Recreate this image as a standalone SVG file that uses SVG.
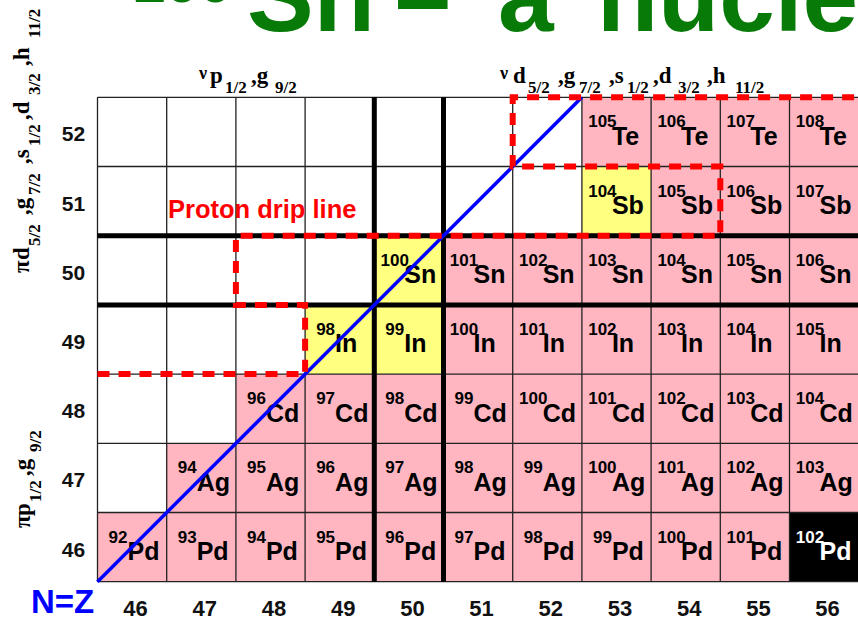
<svg xmlns="http://www.w3.org/2000/svg" width="858" height="620" viewBox="0 0 858 620">
<style>
.pk{fill:#ffb6c1}.yl{fill:#ffff80}.bk{fill:#000}
.m{font-family:'Liberation Sans',Arial,sans-serif;font-weight:bold;font-size:17px;text-anchor:middle;fill:#000}
.s{font-family:'Liberation Sans',Arial,sans-serif;font-weight:bold;font-size:25px;fill:#000}
.w{fill:#fff}
.ax{font-family:'Liberation Serif','Times New Roman',serif;font-weight:bold;font-size:23px;fill:#000}
.sub{font-size:17px}
.gr{font-size:18px}
.num{font-family:'Liberation Sans',Arial,sans-serif;font-weight:bold;font-size:21px;text-anchor:middle;fill:#111}
.nb{font-size:22px}
.thin{stroke:#222;stroke-width:1.3;fill:none}
.thick{stroke:#000;stroke-width:5;fill:none}
</style>
<rect width="858" height="620" fill="#fff"/>
<g id="title" fill="#087a08" font-family="'Liberation Sans',Arial,sans-serif" font-weight="bold">
<text x="132" y="2" font-size="60">100</text>
<text y="31" font-size="100"><tspan x="247">Sn</tspan><tspan x="395">–</tspan><tspan x="498">a</tspan><tspan x="597">nucle</tspan></text>
</g>
<g id="cells">
<g id="c105Te"><rect class="pk" x="581.9" y="97.3" width="69.2" height="69.2"/><text class="m" x="602.4" y="127.3">105</text><text class="s" x="611.9" y="144.8">Te</text></g>
<g id="c106Te"><rect class="pk" x="651.1" y="97.3" width="69.2" height="69.2"/><text class="m" x="671.6" y="127.3">106</text><text class="s" x="681.1" y="144.8">Te</text></g>
<g id="c107Te"><rect class="pk" x="720.3" y="97.3" width="69.2" height="69.2"/><text class="m" x="740.8" y="127.3">107</text><text class="s" x="750.3" y="144.8">Te</text></g>
<g id="c108Te"><rect class="pk" x="789.5" y="97.3" width="69.2" height="69.2"/><text class="m" x="810" y="127.3">108</text><text class="s" x="819.5" y="144.8">Te</text></g>

<g id="c104Sb"><rect class="yl" x="581.9" y="166.5" width="69.2" height="69.2"/><text class="m" x="602.4" y="196.5">104</text><text class="s" x="611.9" y="214">Sb</text></g>
<g id="c105Sb"><rect class="pk" x="651.1" y="166.5" width="69.2" height="69.2"/><text class="m" x="671.6" y="196.5">105</text><text class="s" x="681.1" y="214">Sb</text></g>
<g id="c106Sb"><rect class="pk" x="720.3" y="166.5" width="69.2" height="69.2"/><text class="m" x="740.8" y="196.5">106</text><text class="s" x="750.3" y="214">Sb</text></g>
<g id="c107Sb"><rect class="pk" x="789.5" y="166.5" width="69.2" height="69.2"/><text class="m" x="810" y="196.5">107</text><text class="s" x="819.5" y="214">Sb</text></g>

<g id="c100Sn"><rect class="yl" x="374.3" y="235.7" width="69.2" height="69.2"/><text class="m" x="394.8" y="265.7">100</text><text class="s" x="404.3" y="283.2">Sn</text></g>
<g id="c101Sn"><rect class="pk" x="443.5" y="235.7" width="69.2" height="69.2"/><text class="m" x="464" y="265.7">101</text><text class="s" x="473.5" y="283.2">Sn</text></g>
<g id="c102Sn"><rect class="pk" x="512.7" y="235.7" width="69.2" height="69.2"/><text class="m" x="533.2" y="265.7">102</text><text class="s" x="542.7" y="283.2">Sn</text></g>
<g id="c103Sn"><rect class="pk" x="581.9" y="235.7" width="69.2" height="69.2"/><text class="m" x="602.4" y="265.7">103</text><text class="s" x="611.9" y="283.2">Sn</text></g>
<g id="c104Sn"><rect class="pk" x="651.1" y="235.7" width="69.2" height="69.2"/><text class="m" x="671.6" y="265.7">104</text><text class="s" x="681.1" y="283.2">Sn</text></g>
<g id="c105Sn"><rect class="pk" x="720.3" y="235.7" width="69.2" height="69.2"/><text class="m" x="740.8" y="265.7">105</text><text class="s" x="750.3" y="283.2">Sn</text></g>
<g id="c106Sn"><rect class="pk" x="789.5" y="235.7" width="69.2" height="69.2"/><text class="m" x="810" y="265.7">106</text><text class="s" x="819.5" y="283.2">Sn</text></g>

<g id="c98In"><rect class="yl" x="305.1" y="304.9" width="69.2" height="69.2"/><text class="m" x="325.6" y="334.9">98</text><text class="s" x="335.1" y="352.4">In</text></g>
<g id="c99In"><rect class="yl" x="374.3" y="304.9" width="69.2" height="69.2"/><text class="m" x="394.8" y="334.9">99</text><text class="s" x="404.3" y="352.4">In</text></g>
<g id="c100In"><rect class="pk" x="443.5" y="304.9" width="69.2" height="69.2"/><text class="m" x="464" y="334.9">100</text><text class="s" x="473.5" y="352.4">In</text></g>
<g id="c101In"><rect class="pk" x="512.7" y="304.9" width="69.2" height="69.2"/><text class="m" x="533.2" y="334.9">101</text><text class="s" x="542.7" y="352.4">In</text></g>
<g id="c102In"><rect class="pk" x="581.9" y="304.9" width="69.2" height="69.2"/><text class="m" x="602.4" y="334.9">102</text><text class="s" x="611.9" y="352.4">In</text></g>
<g id="c103In"><rect class="pk" x="651.1" y="304.9" width="69.2" height="69.2"/><text class="m" x="671.6" y="334.9">103</text><text class="s" x="681.1" y="352.4">In</text></g>
<g id="c104In"><rect class="pk" x="720.3" y="304.9" width="69.2" height="69.2"/><text class="m" x="740.8" y="334.9">104</text><text class="s" x="750.3" y="352.4">In</text></g>
<g id="c105In"><rect class="pk" x="789.5" y="304.9" width="69.2" height="69.2"/><text class="m" x="810" y="334.9">105</text><text class="s" x="819.5" y="352.4">In</text></g>

<g id="c96Cd"><rect class="pk" x="235.9" y="374.1" width="69.2" height="69.2"/><text class="m" x="256.4" y="404.1">96</text><text class="s" x="265.9" y="421.6">Cd</text></g>
<g id="c97Cd"><rect class="pk" x="305.1" y="374.1" width="69.2" height="69.2"/><text class="m" x="325.6" y="404.1">97</text><text class="s" x="335.1" y="421.6">Cd</text></g>
<g id="c98Cd"><rect class="pk" x="374.3" y="374.1" width="69.2" height="69.2"/><text class="m" x="394.8" y="404.1">98</text><text class="s" x="404.3" y="421.6">Cd</text></g>
<g id="c99Cd"><rect class="pk" x="443.5" y="374.1" width="69.2" height="69.2"/><text class="m" x="464" y="404.1">99</text><text class="s" x="473.5" y="421.6">Cd</text></g>
<g id="c100Cd"><rect class="pk" x="512.7" y="374.1" width="69.2" height="69.2"/><text class="m" x="533.2" y="404.1">100</text><text class="s" x="542.7" y="421.6">Cd</text></g>
<g id="c101Cd"><rect class="pk" x="581.9" y="374.1" width="69.2" height="69.2"/><text class="m" x="602.4" y="404.1">101</text><text class="s" x="611.9" y="421.6">Cd</text></g>
<g id="c102Cd"><rect class="pk" x="651.1" y="374.1" width="69.2" height="69.2"/><text class="m" x="671.6" y="404.1">102</text><text class="s" x="681.1" y="421.6">Cd</text></g>
<g id="c103Cd"><rect class="pk" x="720.3" y="374.1" width="69.2" height="69.2"/><text class="m" x="740.8" y="404.1">103</text><text class="s" x="750.3" y="421.6">Cd</text></g>
<g id="c104Cd"><rect class="pk" x="789.5" y="374.1" width="69.2" height="69.2"/><text class="m" x="810" y="404.1">104</text><text class="s" x="819.5" y="421.6">Cd</text></g>

<g id="c94Ag"><rect class="pk" x="166.7" y="443.3" width="69.2" height="69.2"/><text class="m" x="187.2" y="473.3">94</text><text class="s" x="196.7" y="490.8">Ag</text></g>
<g id="c95Ag"><rect class="pk" x="235.9" y="443.3" width="69.2" height="69.2"/><text class="m" x="256.4" y="473.3">95</text><text class="s" x="265.9" y="490.8">Ag</text></g>
<g id="c96Ag"><rect class="pk" x="305.1" y="443.3" width="69.2" height="69.2"/><text class="m" x="325.6" y="473.3">96</text><text class="s" x="335.1" y="490.8">Ag</text></g>
<g id="c97Ag"><rect class="pk" x="374.3" y="443.3" width="69.2" height="69.2"/><text class="m" x="394.8" y="473.3">97</text><text class="s" x="404.3" y="490.8">Ag</text></g>
<g id="c98Ag"><rect class="pk" x="443.5" y="443.3" width="69.2" height="69.2"/><text class="m" x="464" y="473.3">98</text><text class="s" x="473.5" y="490.8">Ag</text></g>
<g id="c99Ag"><rect class="pk" x="512.7" y="443.3" width="69.2" height="69.2"/><text class="m" x="533.2" y="473.3">99</text><text class="s" x="542.7" y="490.8">Ag</text></g>
<g id="c100Ag"><rect class="pk" x="581.9" y="443.3" width="69.2" height="69.2"/><text class="m" x="602.4" y="473.3">100</text><text class="s" x="611.9" y="490.8">Ag</text></g>
<g id="c101Ag"><rect class="pk" x="651.1" y="443.3" width="69.2" height="69.2"/><text class="m" x="671.6" y="473.3">101</text><text class="s" x="681.1" y="490.8">Ag</text></g>
<g id="c102Ag"><rect class="pk" x="720.3" y="443.3" width="69.2" height="69.2"/><text class="m" x="740.8" y="473.3">102</text><text class="s" x="750.3" y="490.8">Ag</text></g>
<g id="c103Ag"><rect class="pk" x="789.5" y="443.3" width="69.2" height="69.2"/><text class="m" x="810" y="473.3">103</text><text class="s" x="819.5" y="490.8">Ag</text></g>

<g id="c92Pd"><rect class="pk" x="97.5" y="512.5" width="69.2" height="69.2"/><text class="m" x="118" y="542.5">92</text><text class="s" x="127.5" y="560">Pd</text></g>
<g id="c93Pd"><rect class="pk" x="166.7" y="512.5" width="69.2" height="69.2"/><text class="m" x="187.2" y="542.5">93</text><text class="s" x="196.7" y="560">Pd</text></g>
<g id="c94Pd"><rect class="pk" x="235.9" y="512.5" width="69.2" height="69.2"/><text class="m" x="256.4" y="542.5">94</text><text class="s" x="265.9" y="560">Pd</text></g>
<g id="c95Pd"><rect class="pk" x="305.1" y="512.5" width="69.2" height="69.2"/><text class="m" x="325.6" y="542.5">95</text><text class="s" x="335.1" y="560">Pd</text></g>
<g id="c96Pd"><rect class="pk" x="374.3" y="512.5" width="69.2" height="69.2"/><text class="m" x="394.8" y="542.5">96</text><text class="s" x="404.3" y="560">Pd</text></g>
<g id="c97Pd"><rect class="pk" x="443.5" y="512.5" width="69.2" height="69.2"/><text class="m" x="464" y="542.5">97</text><text class="s" x="473.5" y="560">Pd</text></g>
<g id="c98Pd"><rect class="pk" x="512.7" y="512.5" width="69.2" height="69.2"/><text class="m" x="533.2" y="542.5">98</text><text class="s" x="542.7" y="560">Pd</text></g>
<g id="c99Pd"><rect class="pk" x="581.9" y="512.5" width="69.2" height="69.2"/><text class="m" x="602.4" y="542.5">99</text><text class="s" x="611.9" y="560">Pd</text></g>
<g id="c100Pd"><rect class="pk" x="651.1" y="512.5" width="69.2" height="69.2"/><text class="m" x="671.6" y="542.5">100</text><text class="s" x="681.1" y="560">Pd</text></g>
<g id="c101Pd"><rect class="pk" x="720.3" y="512.5" width="69.2" height="69.2"/><text class="m" x="740.8" y="542.5">101</text><text class="s" x="750.3" y="560">Pd</text></g>
<g id="c102Pd"><rect class="bk" x="789.5" y="512.5" width="69.2" height="69.2"/><text class="m w" x="810" y="542.5">102</text><text class="s w" x="819.5" y="560">Pd</text></g>
</g>
<g id="grid">
<path class="thin" d="M97.5 97.3V581.7M166.7 97.3V581.7M235.9 97.3V581.7M305.1 97.3V581.7M512.7 97.3V581.7M581.9 97.3V581.7M651.1 97.3V581.7M720.3 97.3V581.7M789.5 97.3V581.7M97.5 97.3H858M97.5 166.5H858M97.5 374.1H858M97.5 443.3H858M97.5 512.5H858M97.5 581.7H858"/>
<path class="thick" d="M374.3 97.3V581.7M443.5 97.3V581.7M97.5 235.7H858M97.5 304.9H858"/>
</g>
<g id="connectors">
<path id="nz-line" d="M97.5 581.7L581.9 97.3" stroke="#0000ff" stroke-width="3.5" fill="none"/>
<path id="drip-line" d="M97.5 374.1H305.1V304.9H235.9V235.7H720.3V166.5H512.7V97.3H858" stroke="#ff0000" stroke-width="6" stroke-dasharray="12 9" fill="none"/>
</g>
<g id="labels">
<g id="drip-label"><text x="168" y="218" font-family="'Liberation Sans',Arial,sans-serif" font-weight="bold" font-size="25.5" fill="#ff0000">Proton drip line</text></g>
<g id="nz-label"><text x="31" y="613" font-family="'Liberation Sans',Arial,sans-serif" font-weight="bold" font-size="33" fill="#0000ff">N=Z</text></g>
<g id="z-axis">
<text class="num" x="73.5" y="141.4">52</text>
<text class="num" x="73.5" y="210.6">51</text>
<text class="num" x="73.5" y="279.8">50</text>
<text class="num" x="73.5" y="349">49</text>
<text class="num" x="73.5" y="418.2">48</text>
<text class="num" x="73.5" y="487.4">47</text>
<text class="num" x="73.5" y="556.6">46</text>
</g>
<g id="n-axis">
<text class="num nb" x="135.6" y="616">46</text>
<text class="num nb" x="204.8" y="616">47</text>
<text class="num nb" x="274" y="616">48</text>
<text class="num nb" x="343.2" y="616">49</text>
<text class="num nb" x="412.4" y="616">50</text>
<text class="num nb" x="481.6" y="616">51</text>
<text class="num nb" x="550.8" y="616">52</text>
<text class="num nb" x="620" y="616">53</text>
<text class="num nb" x="689.2" y="616">54</text>
<text class="num nb" x="758.4" y="616">55</text>
<text class="num nb" x="827.6" y="616">56</text>
</g>
<g id="nu-label-1"><text class="ax"><tspan class="gr" x="199" y="79">ν</tspan><tspan x="210" y="83">p</tspan><tspan class="sub" x="225" y="93">1/2</tspan><tspan x="251" y="83">,g</tspan><tspan class="sub" x="275" y="93">9/2</tspan></text></g>
<g id="nu-label-2"><text class="ax"><tspan class="gr" x="500" y="79">ν</tspan><tspan x="513" y="83">d</tspan><tspan class="sub" x="528" y="93">5/2</tspan><tspan x="558" y="83">,g</tspan><tspan class="sub" x="579" y="93">7/2</tspan><tspan x="609" y="83">,s</tspan><tspan class="sub" x="627" y="93">1/2</tspan><tspan x="653" y="83">,d</tspan><tspan class="sub" x="678" y="93">3/2</tspan><tspan x="707" y="83">,h</tspan><tspan class="sub" x="735" y="93">11/2</tspan></text></g>
<g id="pi-label-1" transform="translate(28.5 273) rotate(-90)"><text class="ax"><tspan x="0" y="0">π</tspan><tspan x="13" y="0">d</tspan><tspan class="sub" x="27" y="11">5/2</tspan><tspan x="58" y="0">,g</tspan><tspan class="sub" x="78" y="11">7/2</tspan><tspan x="109" y="0">,s</tspan><tspan class="sub" x="127" y="11">1/2</tspan><tspan x="153" y="0">,d</tspan><tspan class="sub" x="178" y="11">3/2</tspan><tspan x="207" y="0">,h</tspan><tspan class="sub" x="235" y="11">11/2</tspan></text></g>
<g id="pi-label-2" transform="translate(30 528) rotate(-90)"><text class="ax"><tspan x="0" y="0">π</tspan><tspan x="12" y="0">p</tspan><tspan class="sub" x="26" y="11">1/2</tspan><tspan x="52" y="0">,g</tspan><tspan class="sub" x="76" y="11">9/2</tspan></text></g>
</g>
</svg>
